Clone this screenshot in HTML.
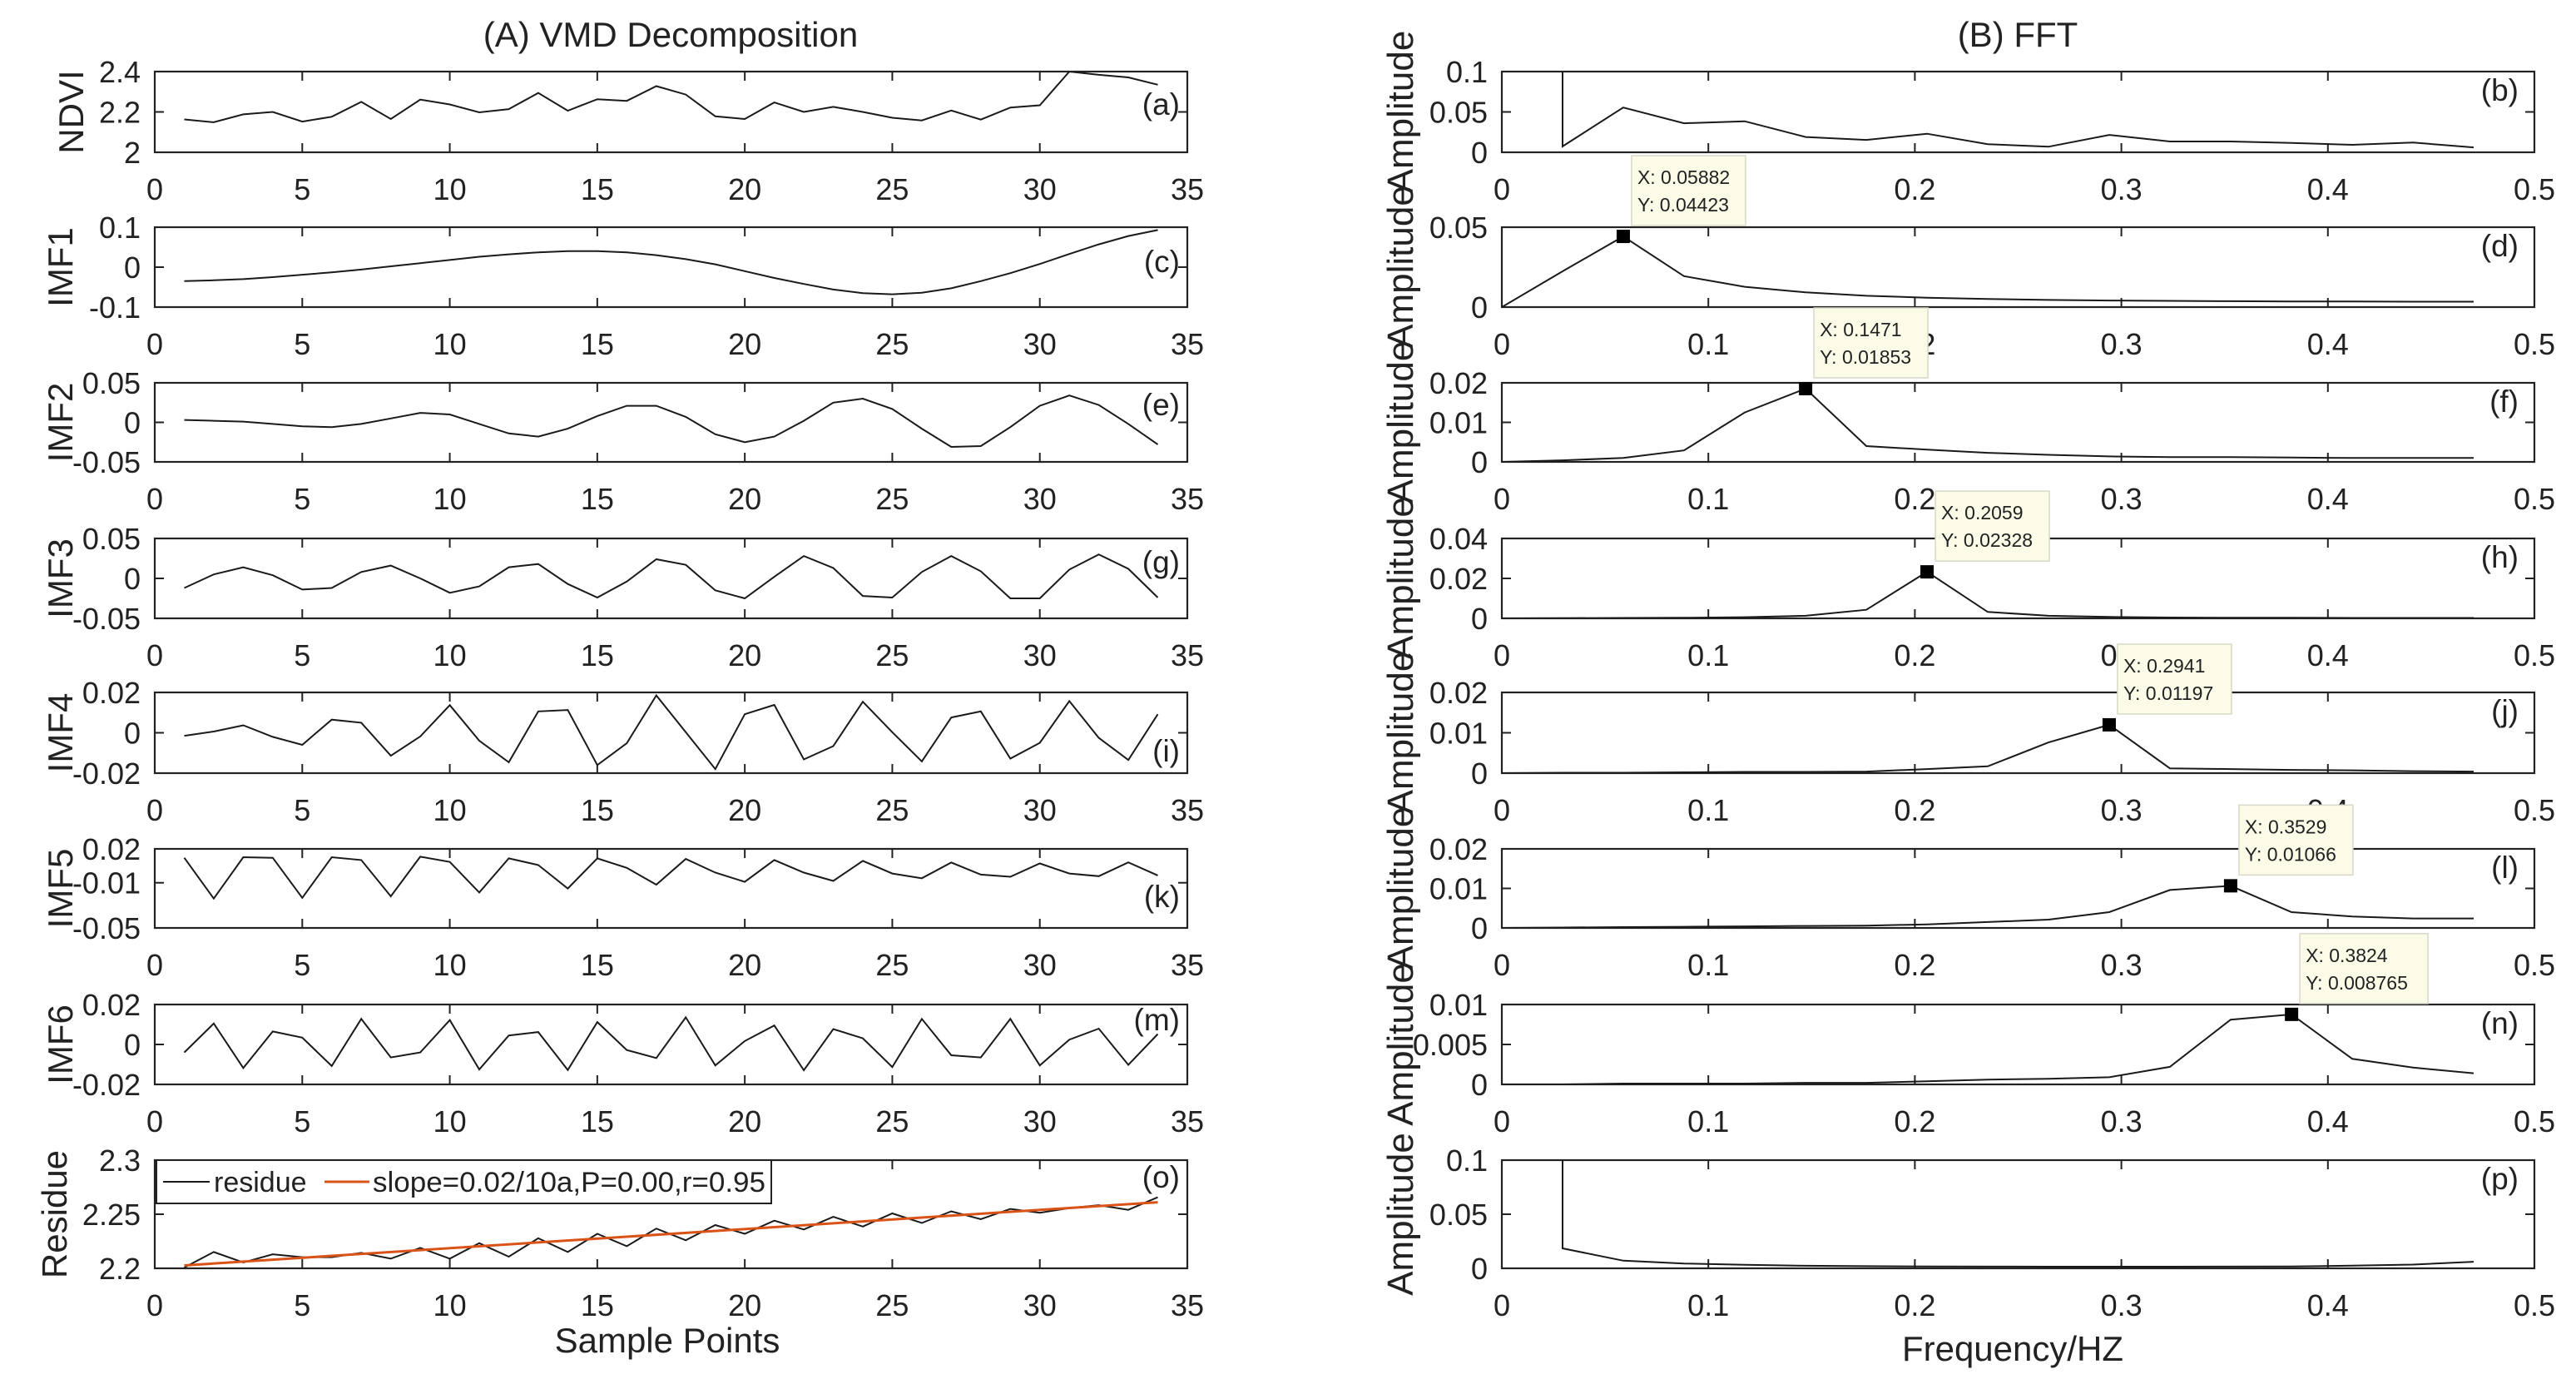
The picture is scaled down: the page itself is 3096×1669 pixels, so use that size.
<!DOCTYPE html>
<html><head><meta charset="utf-8"><title>VMD decomposition and FFT</title>
<style>html,body{margin:0;padding:0;background:#fff}svg{display:block}text{font-family:"Liberation Sans",Arial,sans-serif;fill:#222}</style>
</head><body>
<svg id="fig" xmlns="http://www.w3.org/2000/svg" width="3096" height="1669" viewBox="0 0 3096 1669">
<rect width="3096" height="1669" fill="#fff"/>
<text x="806" y="56" font-size="42" text-anchor="middle">(A) VMD Decomposition</text>
<text x="2425" y="56" font-size="42" text-anchor="middle">(B) FFT</text>
<text x="802" y="1625" font-size="42" text-anchor="middle">Sample Points</text>
<text x="2419" y="1635" font-size="42" text-anchor="middle">Frequency/HZ</text>
</svg>
<script>
// ---- data: left column (VMD) ----
const sampleX = [1,2,3,4,5,6,7,8,9,10,11,12,13,14,15,16,17,18,19,20,21,22,23,24,25,26,27,28,29,30,31,32,33,34];
const ndvi = [2.163,2.149,2.188,2.2,2.152,2.176,2.25,2.165,2.261,2.237,2.198,2.214,2.294,2.206,2.263,2.255,2.328,2.286,2.178,2.165,2.247,2.2,2.225,2.2,2.171,2.158,2.207,2.162,2.222,2.233,2.4,2.384,2.371,2.335];
const imf1 = [-0.035,-0.033,-0.03,-0.025,-0.019,-0.013,-0.006,0.002,0.01,0.018,0.026,0.032,0.037,0.04,0.04,0.037,0.03,0.02,0.007,-0.01,-0.027,-0.042,-0.056,-0.065,-0.068,-0.064,-0.053,-0.035,-0.015,0.008,0.033,0.057,0.078,0.093];
const imf2 = [0.003,0.002,0.001,-0.002,-0.005,-0.006,-0.002,0.005,0.012,0.01,-0.002,-0.014,-0.018,-0.008,0.008,0.021,0.021,0.007,-0.015,-0.025,-0.018,0.002,0.025,0.03,0.017,-0.008,-0.031,-0.03,-0.006,0.021,0.034,0.022,-0.002,-0.028];
const imf3 = [-0.012,0.005,0.014,0.004,-0.014,-0.012,0.008,0.016,0,-0.018,-0.01,0.014,0.018,-0.007,-0.024,-0.004,0.024,0.017,-0.015,-0.025,0.002,0.028,0.013,-0.022,-0.024,0.008,0.028,0.009,-0.025,-0.025,0.011,0.03,0.012,-0.024];
const imf4 = [-0.0015,0.0006,0.0037,-0.002,-0.006,0.0065,0.005,-0.0114,-0.0018,0.0137,-0.0039,-0.0146,0.0106,0.0113,-0.016,-0.0052,0.0185,0.0003,-0.018,0.0092,0.0138,-0.0132,-0.0066,0.0154,0.0003,-0.0142,0.0076,0.0106,-0.0128,-0.005,0.0157,-0.0025,-0.0135,0.0092];
const imf5 = [0.0121,-0.024,0.0126,0.0121,-0.0233,0.0126,0.0101,-0.022,0.0131,0.0084,-0.0186,0.0116,0.0057,-0.0151,0.0116,0.0032,-0.0117,0.0111,-0.001,-0.0092,0.0101,-0.001,-0.0084,0.0094,-0.0018,-0.006,0.0079,-0.0028,-0.0047,0.0071,-0.0018,-0.0042,0.0081,-0.0035];
const imf6 = [-0.004,0.0105,-0.0118,0.0065,0.0034,-0.0108,0.0128,-0.0065,-0.004,0.0122,-0.0125,0.0045,0.0062,-0.0128,0.0112,-0.0028,-0.0068,0.0136,-0.0105,0.0017,0.0095,-0.0129,0.0077,0.0031,-0.0113,0.0128,-0.0054,-0.0065,0.0128,-0.0105,0.0024,0.0079,-0.0102,0.0052];
const residue = [2.2008,2.2151,2.2054,2.213,2.2103,2.2103,2.2143,2.2089,2.2189,2.2089,2.2232,2.2108,2.2278,2.2151,2.2319,2.2205,2.2368,2.2259,2.24,2.2319,2.2441,2.2359,2.2476,2.2386,2.2508,2.2419,2.2527,2.2454,2.2549,2.2514,2.2557,2.2584,2.2541,2.2657];
const trendX = [1,34];
const trendY = [2.2027,2.2611];
const sampleTicks = [0,5,10,15,20,25,30,35];
// ---- data: right column (FFT) ----
const freq = [0,0.0294,0.0588,0.0882,0.1176,0.1471,0.1765,0.2059,0.2353,0.2647,0.2941,0.3235,0.3529,0.3824,0.4118,0.4412,0.4706];
const freqSpike = [0.0294,0.0294,0.0588,0.0882,0.1176,0.1471,0.1765,0.2059,0.2353,0.2647,0.2941,0.3235,0.3529,0.3824,0.4118,0.4412,0.4706];
const fftB = [1.0,0.0073,0.0555,0.036,0.0385,0.019,0.0154,0.023,0.0101,0.0069,0.0215,0.0134,0.0134,0.0117,0.0093,0.0121,0.0061];
const fftD = [0,0.0224,0.04423,0.0194,0.0127,0.0092,0.0071,0.0059,0.0051,0.0045,0.0041,0.0039,0.0037,0.0035,0.0035,0.0034,0.0034];
const fftF = [0,0.0004,0.001,0.0029,0.0125,0.01853,0.004,0.0031,0.0023,0.0018,0.0014,0.0012,0.0012,0.0011,0.001,0.001,0.001];
const fftH = [0,0.0001,0.0002,0.0003,0.0006,0.0013,0.0043,0.02328,0.0032,0.0013,0.0007,0.0004,0.0003,0.0003,0.0002,0.0002,0.0002];
const fftJ = [0,0.0001,0.0001,0.0002,0.0003,0.0003,0.0004,0.001,0.0017,0.0076,0.01197,0.0012,0.001,0.0008,0.0007,0.0005,0.0004];
const fftL = [0,0.0001,0.0002,0.0003,0.0004,0.0005,0.0006,0.0009,0.0015,0.0021,0.004,0.0096,0.01066,0.004,0.0029,0.0024,0.0024];
const fftN = [0,0,0.0001,0.0001,0.0001,0.0002,0.0002,0.0004,0.0006,0.0007,0.0009,0.0022,0.0081,0.008765,0.0032,0.0021,0.0014];
const fftP = [1.0,0.0185,0.0071,0.0045,0.0032,0.0024,0.002,0.0018,0.0016,0.0015,0.0015,0.0015,0.0016,0.0018,0.0025,0.0035,0.0061];
const freqTicks = [0,0.1,0.2,0.3,0.4,0.5];
const tipXLabels = ["X: 0.05882","X: 0.1471","X: 0.2059","X: 0.2941","X: 0.3529","X: 0.3824"];
const tipYLabels = ["Y: 0.04423","Y: 0.01853","Y: 0.02328","Y: 0.01197","Y: 0.01066","Y: 0.008765"];

const NS = "http://www.w3.org/2000/svg";
const svg = document.getElementById('fig');
function mk(tag, attrs, parent){const e=document.createElementNS(NS,tag);for(const k in attrs)e.setAttribute(k,attrs[k]);(parent||svg).appendChild(e);return e;}

const rowTops = [86,273,460,647,832,1020,1207,1394];
const rowH = [97,96,95,96,97,95,96,130];

const leftPanels = [
 {id:'ndvi',ylab:'NDVI',letter:'(a)',ys:ndvi,ylim:[2,2.4],yt:[2,2.2,2.4],ytl:['2','2.2','2.4'],lo:52},
 {id:'imf1',ylab:'IMF1',letter:'(c)',ys:imf1,ylim:[-0.1,0.1],yt:[-0.1,0,0.1],ytl:['-0.1','0','0.1'],lo:54},
 {id:'imf2',ylab:'IMF2',letter:'(e)',ys:imf2,ylim:[-0.05,0.05],yt:[-0.05,0,0.05],ytl:['-0.05','0','0.05'],lo:39},
 {id:'imf3',ylab:'IMF3',letter:'(g)',ys:imf3,ylim:[-0.05,0.05],yt:[-0.05,0,0.05],ytl:['-0.05','0','0.05'],lo:41},
 {id:'imf4',ylab:'IMF4',letter:'(i)',ys:imf4,ylim:[-0.02,0.02],yt:[-0.02,0,0.02],ytl:['-0.02','0','0.02'],lo:83},
 {id:'imf5',ylab:'IMF5',letter:'(k)',ys:imf5,ylim:[-0.05,0.02],yt:[-0.05,-0.01,0.02],ytl:['-0.05','-0.01','0.02'],lo:70},
 {id:'imf6',ylab:'IMF6',letter:'(m)',ys:imf6,ylim:[-0.02,0.02],yt:[-0.02,0,0.02],ytl:['-0.02','0','0.02'],lo:31},
 {id:'residue',ylab:'Residue',letter:'(o)',ys:residue,ylim:[2.2,2.3],yt:[2.2,2.25,2.3],ytl:['2.2','2.25','2.3'],lo:33}
];
const rightPanels = [
 {id:'fft-ndvi',letter:'(b)',xs:freqSpike,ys:fftB,ylim:[0,0.1],yt:[0,0.05,0.1],ytl:['0','0.05','0.1'],tip:-1},
 {id:'fft-imf1',letter:'(d)',xs:freq,ys:fftD,ylim:[0,0.05],yt:[0,0.05],ytl:['0','0.05'],tip:2},
 {id:'fft-imf2',letter:'(f)',xs:freq,ys:fftF,ylim:[0,0.02],yt:[0,0.01,0.02],ytl:['0','0.01','0.02'],tip:5},
 {id:'fft-imf3',letter:'(h)',xs:freq,ys:fftH,ylim:[0,0.04],yt:[0,0.02,0.04],ytl:['0','0.02','0.04'],tip:7},
 {id:'fft-imf4',letter:'(j)',xs:freq,ys:fftJ,ylim:[0,0.02],yt:[0,0.01,0.02],ytl:['0','0.01','0.02'],tip:10},
 {id:'fft-imf5',letter:'(l)',xs:freq,ys:fftL,ylim:[0,0.02],yt:[0,0.01,0.02],ytl:['0','0.01','0.02'],tip:12},
 {id:'fft-imf6',letter:'(n)',xs:freq,ys:fftN,ylim:[0,0.01],yt:[0,0.005,0.01],ytl:['0','0.005','0.01'],tip:13},
 {id:'fft-residue',letter:'(p)',xs:freqSpike,ys:fftP,ylim:[0,0.1],yt:[0,0.05,0.1],ytl:['0','0.05','0.1'],tip:-1}
];

function drawAxes(g, id, L, R, T, B, xlim, xt, xtl, ylim, yt, ytl){
  const sx = v => L + (v - xlim[0]) / (xlim[1] - xlim[0]) * (R - L);
  const sy = v => B - (v - ylim[0]) / (ylim[1] - ylim[0]) * (B - T);
  const clip = mk('clipPath',{id:'clip-'+id},g);
  mk('rect',{x:L,y:T,width:R-L,height:B-T},clip);
  xt.forEach((v,i)=>{
    const x = sx(v);
    const t1 = mk('line',{x1:x,y1:B,x2:x,y2:B-11,stroke:'#222','stroke-width':2},g);
    
    
    const t2 = mk('line',{x1:x,y1:T,x2:x,y2:T+11,stroke:'#222','stroke-width':2},g);
    
    
    const tl = mk('text',{x:x,y:B+57,'font-size':36,'text-anchor':'middle'},g);
    tl.textContent = xtl[i];
    
    
  });
  yt.forEach((v,i)=>{
    const y = sy(v);
    const t1 = mk('line',{x1:L,y1:y,x2:L+11,y2:y,stroke:'#222','stroke-width':2},g);
    
    
    const t2 = mk('line',{x1:R,y1:y,x2:R-11,y2:y,stroke:'#222','stroke-width':2},g);
    
    
    const tl = mk('text',{x:L-17,y:y+13,'font-size':36,'text-anchor':'end'},g);
    tl.textContent = ytl[i];
    
    
  });
  const box = mk('rect',{x:L,y:T,width:R-L,height:B-T,fill:'none',stroke:'#222','stroke-width':2.2},g);
  
  
  return {sx, sy};
}
function linePath(xs, ys, sx, sy){
  return xs.map((x,i)=>(i?'L':'M')+sx(x).toFixed(1)+','+sy(ys[i]).toFixed(1)).join(' ');
}

const LL=186, LR=1427, RL=1805, RR=3046;
const sampleTickLabels = sampleTicks.map(String);
const freqTickLabels = freqTicks.map(String);

leftPanels.forEach((p,i)=>{
  const T=rowTops[i], B=T+rowH[i];
  const g = mk('g',{});
  
  
  const a = drawAxes(g,p.id,LL,LR,T,B,[0,35],sampleTicks,sampleTickLabels,p.ylim,p.yt,p.ytl);
  const ln = mk('path',{d:linePath(sampleX,p.ys,a.sx,a.sy),fill:'none',stroke:'#1a1a1a','stroke-width':2,'clip-path':'url(#clip-'+p.id+')'},g);
  
  
  const cy=(T+B)/2, bx = p.id==='ndvi'?100:(p.id==='residue'?80:87);
  const yl = mk('text',{x:bx,y:cy,'font-size':42,'text-anchor':'middle',transform:'rotate(-90 '+bx+' '+cy+')'},g);
  yl.textContent = p.ylab;
  
  
  const lt = mk('text',{x:1418,y:T+p.lo,'font-size':37,'text-anchor':'end'},g);
  lt.textContent = p.letter;
  
  
  if(p.id==='residue'){
    const tr = mk('path',{d:linePath(trendX,trendY,a.sx,a.sy),fill:'none',stroke:'#D95319','stroke-width':3,'clip-path':'url(#clip-residue)'},g);
    
    
    const lg = mk('g',{},g);
    
    
    mk('rect',{x:188,y:1394,width:739,height:52,fill:'#fff',stroke:'#222','stroke-width':2},lg);
    const l1 = mk('line',{x1:196,y1:1420,x2:252,y2:1420,stroke:'#1a1a1a','stroke-width':2},lg);
    
    
    const t1 = mk('text',{x:257,y:1432,'font-size':34},lg);
    t1.textContent='residue';
    
    
    const l2 = mk('line',{x1:390,y1:1420,x2:444,y2:1420,stroke:'#D95319','stroke-width':3},lg);
    
    
    const t2 = mk('text',{x:448,y:1432,'font-size':34,textLength:472,lengthAdjust:'spacingAndGlyphs'},lg);
    t2.textContent='slope=0.02/10a,P=0.00,r=0.95';
    
    
  }
});

let tipIdx = 0;
rightPanels.forEach((p,i)=>{
  const T=rowTops[i], B=T+rowH[i];
  const g = mk('g',{});
  
  
  const a = drawAxes(g,p.id,RL,RR,T,B,[0,0.5],freqTicks,freqTickLabels,p.ylim,p.yt,p.ytl);
  const ln = mk('path',{d:linePath(p.xs,p.ys,a.sx,a.sy),fill:'none',stroke:'#1a1a1a','stroke-width':2,'clip-path':'url(#clip-'+p.id+')'},g);
  
  
  const cy=(T+B)/2, bx=1698;
  const yl = mk('text',{x:bx,y:cy,'font-size':44,'text-anchor':'middle',transform:'rotate(-90 '+bx+' '+cy+')'},g);
  yl.textContent = 'Amplitude';
  
  
  const lt = mk('text',{x:3027,y:T+35,'font-size':37,'text-anchor':'end'},g);
  lt.textContent = p.letter;
  
  
  if(p.tip>=0){
    const mx=a.sx(p.xs[p.tip]), my=a.sy(p.ys[p.tip]);
    const mkr = mk('rect',{x:mx-8,y:my-8,width:16,height:16,fill:'#000'},svg);
    
    
    const tg = mk('g',{},svg);
    
    
    const w = tipYLabels[tipIdx].length>10?154:137;
    const bxl = mx+10, byt = my-97;
    mk('rect',{x:bxl,y:byt,width:w,height:84,fill:'#fbfbe8',stroke:'#d8d8c8','stroke-width':1.5},tg);
    const tx = mk('text',{x:bxl+7,y:byt+34,'font-size':23},tg);
    tx.textContent = tipXLabels[tipIdx];
    
    
    const ty = mk('text',{x:bxl+7,y:byt+67,'font-size':23},tg);
    ty.textContent = tipYLabels[tipIdx];
    
    
    tipIdx++;
  }
});
</script>
</body></html>
